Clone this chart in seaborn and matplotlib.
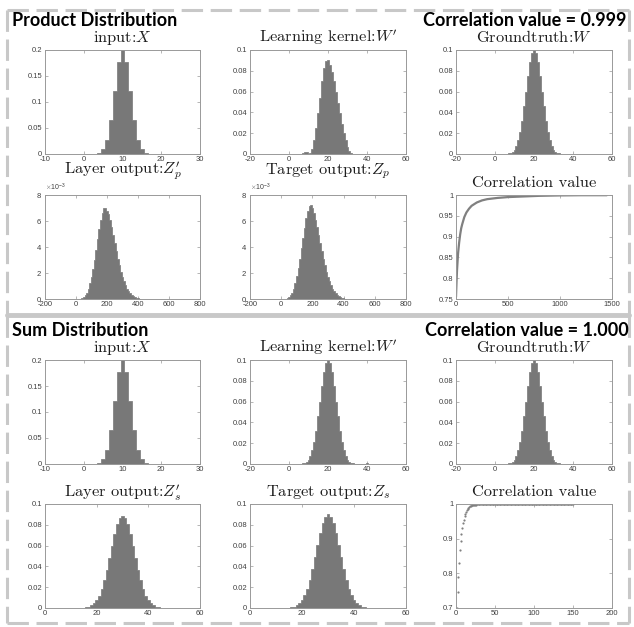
import numpy as np
import pandas as pd
import seaborn as sns
import matplotlib.pyplot as plt
from matplotlib.lines import Line2D
from matplotlib.ticker import FormatStrFormatter


# input X, bin centres and heights (same in both sections)
input_centers = [4, 5, 6, 7, 8, 9, 10, 11, 12, 13, 14, 15, 16]
input_heights = [0.002, 0.009, 0.027, 0.065, 0.121, 0.176, 0.200, 0.176, 0.121, 0.065, 0.027, 0.009, 0.002]

# product section: learned kernel W'
kern_prod_centers = [7, 8, 9, 10, 11, 12, 13, 14, 15, 16, 17, 18, 19, 20, 21, 22, 23, 24, 25, 26, 27, 28, 29, 30, 31, 32]
kern_prod_heights = [0.001, 0.002, 0.002, 0.0, 0.001, 0.005, 0.013, 0.025, 0.039, 0.054, 0.070, 0.083, 0.089,
                     0.090, 0.086, 0.079, 0.070, 0.060, 0.049, 0.039, 0.029, 0.020, 0.013, 0.007, 0.003, 0.001]

# groundtruth W (same in both sections)
truth_centers = [7, 8, 9, 10, 11, 12, 13, 14, 15, 16, 17, 18, 19, 20, 21, 22, 23, 24, 25, 26, 27, 28, 29, 30, 31, 32, 33]
truth_heights = [0.0005, 0.001, 0.002, 0.004, 0.008, 0.0135, 0.0215, 0.032, 0.046, 0.060, 0.075, 0.088, 0.097, 0.100,
                 0.097, 0.088, 0.075, 0.060, 0.046, 0.032, 0.0215, 0.0135, 0.008, 0.004, 0.002, 0.001, 0.0005]

# sum section: learned kernel W'
kern_sum_centers = [7, 8, 9, 10, 11, 12, 13, 14, 15, 16, 17, 18, 19, 20, 21, 22, 23, 24, 25, 26, 27, 28, 29, 30,
                    31, 32, 33, 34, 35, 36, 37, 38, 39, 40]
kern_sum_heights = [0.0005, 0.001, 0.002, 0.004, 0.008, 0.0135, 0.0215, 0.032, 0.046, 0.060, 0.075, 0.088, 0.097,
                    0.100, 0.097, 0.088, 0.075, 0.060, 0.046, 0.032, 0.0215, 0.0135, 0.008, 0.004, 0.002, 0.001,
                    0.0005, 0.0, 0.0, 0.0, 0.0, 0.0, 0.0, 0.001]

# product outputs, density in units of 1e-3, bins of width 10
zp_centers = [40, 50, 60, 70, 80, 90, 100, 110, 120, 130, 140, 150, 160, 170, 180, 190, 200, 210, 220, 230,
              240, 250, 260, 270, 280, 290, 300, 310, 320, 330, 340, 350, 360, 370, 380, 390, 400, 410]
zp_layer = [0.05, 0.15, 0.3, 0.5, 0.8, 1.2, 1.7, 2.3, 3.0, 3.8, 4.6, 5.4, 6.1, 6.6, 7.0, 7.0, 6.8, 6.5, 6.1, 5.5,
            4.9, 4.3, 3.7, 3.1, 2.6, 2.1, 1.7, 1.35, 1.05, 0.8, 0.6, 0.45, 0.32, 0.22, 0.15, 0.1, 0.06, 0.03]
zp_target = [0.05, 0.15, 0.3, 0.5, 0.8, 1.2, 1.75, 2.4, 3.1, 3.9, 4.7, 5.5, 6.2, 6.8, 7.15, 7.2, 7.0, 6.6, 6.1, 5.5,
             4.9, 4.3, 3.7, 3.1, 2.6, 2.1, 1.7, 1.35, 1.05, 0.8, 0.6, 0.45, 0.32, 0.22, 0.15, 0.1, 0.06, 0.03]

# sum outputs
zs_centers = [16, 17, 18, 19, 20, 21, 22, 23, 24, 25, 26, 27, 28, 29, 30, 31, 32, 33, 34, 35, 36, 37, 38, 39,
              40, 41, 42, 43, 44]
zs_layer = [0.0007, 0.0013, 0.0025, 0.0045, 0.0075, 0.012, 0.0183, 0.0265, 0.0366, 0.048, 0.0599, 0.0711, 0.0804,
            0.0865, 0.0886, 0.0865, 0.0804, 0.0711, 0.0599, 0.048, 0.0366, 0.0265, 0.0183, 0.012, 0.0075, 0.0045,
            0.0025, 0.0013, 0.0007]
zs_target = [0.0007, 0.0013, 0.0025, 0.0046, 0.0076, 0.0122, 0.0186, 0.0269, 0.0372, 0.0488, 0.0609, 0.0722,
             0.0817, 0.0879, 0.0900, 0.0879, 0.0817, 0.0722, 0.0609, 0.0488, 0.0372, 0.0269, 0.0186, 0.0122,
             0.0076, 0.0046, 0.0025, 0.0013, 0.0007]

# correlation curves
corr_prod_iter = [0, 5, 10, 20, 30, 40, 50, 60, 80, 100, 125, 150, 200, 250, 300, 400, 500, 600, 800, 1000, 1200, 1450]
corr_prod_val = [0.755, 0.79, 0.82, 0.86, 0.885, 0.905, 0.92, 0.93, 0.947, 0.958, 0.967, 0.974, 0.982, 0.987,
                 0.990, 0.993, 0.995, 0.996, 0.998, 0.999, 0.9995, 0.9995]

corr_sum_iter = list(range(1, 151))
corr_sum_val = [0.700, 0.745, 0.790, 0.830, 0.866, 0.893, 0.914, 0.930, 0.944, 0.955, 0.964, 0.971, 0.977, 0.982,
                0.986, 0.989, 0.991, 0.993, 0.995, 0.996, 0.997, 0.997, 0.998, 0.998, 0.998, 0.999, 0.999, 0.999,
                0.999, 0.999] + [1.0] * 120

BAR = "#787878"
W, H = 634, 627

sns.set_theme(style="white")
plt.rcParams["font.family"] = ["Liberation Sans", "DejaVu Sans"]
plt.rcParams["mathtext.fontset"] = "cm"
plt.rcParams["axes.formatter.use_mathtext"] = True

fig = plt.figure(figsize=(W / 100, H / 100), dpi=100)


def px_axes(x0, y0, x1, y1):
    return fig.add_axes([x0 / W, 1 - y1 / H, (x1 - x0) / W, (y1 - y0) / H])


def style(ax, title, xlim, xticks, ylim, yticks, sci=False):
    ax.set_xlim(xlim)
    ax.set_ylim(ylim)
    ax.set_xticks(xticks)
    ax.set_yticks(yticks)
    ax.xaxis.set_major_formatter(FormatStrFormatter("%g"))
    if sci:
        ax.ticklabel_format(axis="y", style="sci", scilimits=(0, 0), useMathText=True)
        ax.yaxis.get_offset_text().set_fontsize(5)
        ax.yaxis.get_offset_text().set_color("#404040")
    else:
        ax.yaxis.set_major_formatter(FormatStrFormatter("%g"))
    ax.set_xlabel(None)
    ax.set_ylabel(None)
    ax.tick_params(direction="in", length=2, width=0.5, colors="#999999", labelcolor="#404040",
                   labelsize=5.5, pad=2, top=True, right=True, bottom=True, left=True)
    ax.tick_params(axis="x", pad=1.5)
    for sp in ax.spines.values():
        sp.set_color("#999999")
        sp.set_linewidth(0.7)
    ax.set_title(title, fontsize=11.8, family="cmr10", pad=5.5, color="#1e1e1e")


def hist_panel(ax, centers, heights, bw, scale=1.0):
    df = pd.DataFrame({"x": centers, "w": [h * scale for h in heights]})
    edges = np.arange(centers[0] - bw / 2, centers[-1] + bw, bw).tolist()
    sns.histplot(data=df, x="x", weights="w", bins=edges, element="step", fill=True,
                 color=BAR, edgecolor=BAR, alpha=1, linewidth=0.5, ax=ax)


cols = [(45, 200), (250, 406), (456, 612)]
rows = {"A": (50, 154), "B": (195, 299), "C": (360, 464), "D": (504, 608)}

# product section
ax = px_axes(cols[0][0], rows["A"][0], cols[0][1], rows["A"][1])
hist_panel(ax, input_centers, input_heights, 1)
style(ax, r"input:$X$", (-10, 30), [-10, 0, 10, 20, 30], (0, 0.2), [0, 0.05, 0.1, 0.15, 0.2])

ax = px_axes(cols[1][0], rows["A"][0], cols[1][1], rows["A"][1])
hist_panel(ax, kern_prod_centers, kern_prod_heights, 1)
style(ax, r"Learning kernel:$W^{\prime}$", (-20, 60), [-20, 0, 20, 40, 60], (0, 0.1),
      [0, 0.02, 0.04, 0.06, 0.08, 0.1])

ax = px_axes(cols[2][0], rows["A"][0], cols[2][1], rows["A"][1])
hist_panel(ax, truth_centers, truth_heights, 1)
style(ax, r"Groundtruth:$W$", (-20, 60), [-20, 0, 20, 40, 60], (0, 0.1), [0, 0.02, 0.04, 0.06, 0.08, 0.1])

ax = px_axes(cols[0][0], rows["B"][0], cols[0][1], rows["B"][1])
hist_panel(ax, zp_centers, zp_layer, 10, scale=1e-3)
style(ax, r"Layer output:$Z^{\prime}_{p}$", (-200, 800), [-200, 0, 200, 400, 600, 800], (0, 0.008),
      [0, 0.002, 0.004, 0.006, 0.008], sci=True)

ax = px_axes(cols[1][0], rows["B"][0], cols[1][1], rows["B"][1])
hist_panel(ax, zp_centers, zp_target, 10, scale=1e-3)
style(ax, r"Target output:$Z_p$", (-200, 800), [-200, 0, 200, 400, 600, 800], (0, 0.008),
      [0, 0.002, 0.004, 0.006, 0.008], sci=True)

ax = px_axes(cols[2][0], rows["B"][0], cols[2][1], rows["B"][1])
sns.lineplot(x=corr_prod_iter, y=corr_prod_val, color="#808080", linewidth=1.6, ax=ax)
style(ax, "Correlation value", (0, 1500), [0, 500, 1000, 1500], (0.75, 1.0), [0.75, 0.8, 0.85, 0.9, 0.95, 1])

# sum section
ax = px_axes(cols[0][0], rows["C"][0], cols[0][1], rows["C"][1])
hist_panel(ax, input_centers, input_heights, 1)
style(ax, r"input:$X$", (-10, 30), [-10, 0, 10, 20, 30], (0, 0.2), [0, 0.05, 0.1, 0.15, 0.2])

ax = px_axes(cols[1][0], rows["C"][0], cols[1][1], rows["C"][1])
hist_panel(ax, kern_sum_centers, kern_sum_heights, 1)
style(ax, r"Learning kernel:$W^{\prime}$", (-20, 60), [-20, 0, 20, 40, 60], (0, 0.1),
      [0, 0.02, 0.04, 0.06, 0.08, 0.1])

ax = px_axes(cols[2][0], rows["C"][0], cols[2][1], rows["C"][1])
hist_panel(ax, truth_centers, truth_heights, 1)
style(ax, r"Groundtruth:$W$", (-20, 60), [-20, 0, 20, 40, 60], (0, 0.1), [0, 0.02, 0.04, 0.06, 0.08, 0.1])

ax = px_axes(cols[0][0], rows["D"][0], cols[0][1], rows["D"][1])
hist_panel(ax, zs_centers, zs_layer, 1)
style(ax, r"Layer output:$Z^{\prime}_{s}$", (0, 60), [0, 20, 40, 60], (0, 0.1), [0, 0.02, 0.04, 0.06, 0.08, 0.1])

ax = px_axes(cols[1][0], rows["D"][0], cols[1][1], rows["D"][1])
hist_panel(ax, zs_centers, zs_target, 1)
style(ax, r"Target output:$Z_s$", (0, 60), [0, 20, 40, 60], (0, 0.1), [0, 0.02, 0.04, 0.06, 0.08, 0.1])

ax = px_axes(cols[2][0], rows["D"][0], cols[2][1], rows["D"][1])
sns.scatterplot(x=corr_sum_iter, y=corr_sum_val, color="#808080", s=2.5, linewidth=0, ax=ax)
style(ax, "Correlation value", (0, 200), [0, 50, 100, 150, 200], (0.7, 1.0), [0.7, 0.8, 0.9, 1])


# dashed frames around the two sections
def frame_line(x0, y0, x1, y1, dashed=True, lw=2.2):
    ls = (0, (7, 2.5)) if dashed else "-"
    fig.add_artist(Line2D([x0 / W, x1 / W], [1 - y0 / H, 1 - y1 / H], transform=fig.transFigure,
                          color="#c8c8c8", lw=lw, linestyle=ls, dash_capstyle="butt"))


frame_line(7, 10, 629, 10)
frame_line(7, 10, 7, 314)
frame_line(629, 10, 629, 314)
frame_line(7, 315, 629, 315, dashed=False, lw=3.5)
frame_line(7, 316, 7, 623)
frame_line(629, 316, 629, 623)
frame_line(7, 623, 629, 623)

head = dict(fontsize=13, fontweight="bold", family=["Lato", "DejaVu Sans"], color="black", va="center")
fig.text(12 / W, 1 - 20 / H, "Product Distribution", ha="left", **head)
fig.text(626 / W, 1 - 20 / H, "Correlation value = 0.999", ha="right", **head)
fig.text(12 / W, 1 - 330 / H, "Sum Distribution", ha="left", **head)
fig.text(629 / W, 1 - 330 / H, "Correlation value = 1.000", ha="right", **head)

fig.savefig("out.png", dpi=100)
